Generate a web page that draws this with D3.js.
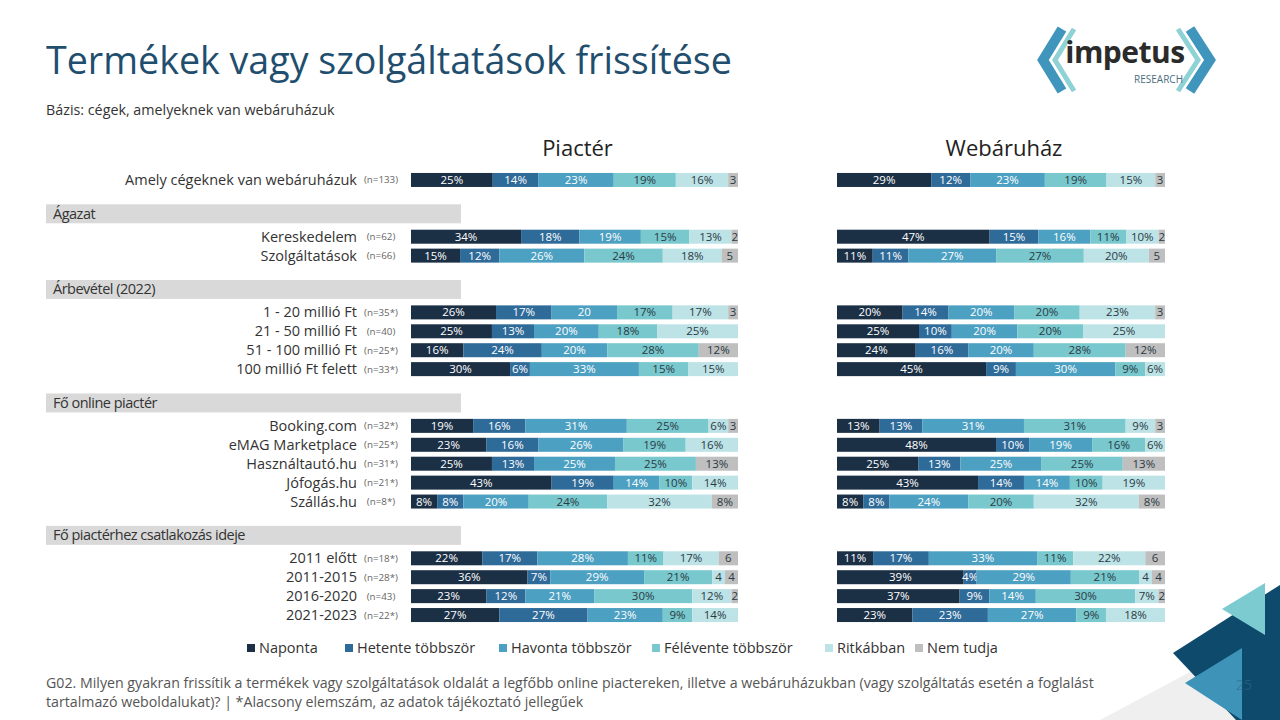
<!DOCTYPE html>
<html>
<head>
<meta charset="utf-8">
<script src="https://cdn.jsdelivr.net/npm/d3@7"></script>
<style>
  body { margin: 0; background: #fff; }
  svg { display: block; font-family: 'Open Sans', 'Noto Sans', sans-serif; }
</style>
</head>
<body>
<div id="chart"></div>
<script>
// Datos
const series = ["Naponta", "Hetente többször", "Havonta többször", "Félévente többször", "Ritkábban", "Nem tudja"];
const colors = ["#1b2f45", "#2f6b99", "#4ca0c2", "#78c8cd", "#bde3e6", "#bfbfbf"];

// filas (null = hueco entre grupos)
const rowLabels = [
  "Amely cégeknek van webáruházuk", null, null,
  "Kereskedelem", "Szolgáltatások", null, null,
  "1 - 20 millió Ft", "21 - 50 millió Ft", "51 - 100 millió Ft", "100 millió Ft felett", null, null,
  "Booking.com", "eMAG Marketplace", "Használtautó.hu", "Jófogás.hu", "Szállás.hu", null, null,
  "2011 előtt", "2011-2015", "2016-2020", "2021-2023"
];
const nLabels = [
  "(n=133)", null, null,
  "(n=62)", "(n=66)", null, null,
  "(n=35*)", "(n=40)", "(n=25*)", "(n=33*)", null, null,
  "(n=32*)", "(n=25*)", "(n=31*)", "(n=21*)", "(n=8*)", null, null,
  "(n=18*)", "(n=28*)", "(n=43)", "(n=22*)"
];
const groupHeaders = ["Ágazat", "Árbevétel (2022)", "Fő online piactér", "Fő piactérhez csatlakozás ideje"];
const panelTitles = ["Piactér", "Webáruház"];

const piacter = [
  [25, 14, 23, 19, 16, 3], null, null,
  [34, 18, 19, 15, 13, 2], [15, 12, 26, 24, 18, 5], null, null,
  [26, 17, 20, 17, 17, 3], [25, 13, 20, 18, 25, 0], [16, 24, 20, 28, 0, 12], [30, 6, 33, 15, 15, 0], null, null,
  [19, 16, 31, 25, 6, 3], [23, 16, 26, 19, 16, 0], [25, 13, 25, 25, 0, 13], [43, 19, 14, 10, 14, 0], [8, 8, 20, 24, 32, 8], null, null,
  [22, 17, 28, 11, 17, 6], [36, 7, 29, 21, 4, 4], [23, 12, 21, 30, 12, 2], [27, 27, 23, 9, 14, 0]
];
const webaruhaz = [
  [29, 12, 23, 19, 15, 3], null, null,
  [47, 15, 16, 11, 10, 2], [11, 11, 27, 27, 20, 5], null, null,
  [20, 14, 20, 20, 23, 3], [25, 10, 20, 20, 25, 0], [24, 16, 20, 28, 0, 12], [45, 9, 30, 9, 6, 0], null, null,
  [13, 13, 31, 31, 9, 3], [48, 10, 19, 16, 6, 0], [25, 13, 25, 25, 0, 13], [43, 14, 14, 10, 19, 0], [8, 8, 24, 20, 32, 8], null, null,
  [11, 17, 33, 11, 22, 6], [39, 4, 29, 21, 4, 4], [37, 9, 14, 30, 7, 2], [23, 23, 27, 9, 18, 0]
];
// etiquetas sin "%" tal como aparecen en el original: [panel, fila, serie]
const plainLabels = [[0, 7, 2]];

const svgWidth = 1280, svgHeight = 720;
const svg = d3.select("#chart").append("svg")
  .attr("width", svgWidth).attr("height", svgHeight);

// decoracion abajo a la derecha
svg.append("polygon").attr("points", "1100,720 1205,664 1280,632 1280,720").attr("fill", "#efefef");
svg.append("polygon").attr("points", "1173,653 1280,585 1280,720 1236,720").attr("fill", "#0d4a6b");
svg.append("polygon").attr("points", "1222,609 1265,583 1265,635").attr("fill", "#7ccbd0");
svg.append("polygon").attr("points", "1185,683 1242,648 1242,720").attr("fill", "#3d93b8");
svg.append("text").attr("x", 1236).attr("y", 690).attr("font-size", 14)
  .attr("fill", "#2f6b8a").attr("opacity", 0.6).text("25");

// titulo
const title = svg.append("text")
  .attr("x", 46).attr("y", 74)
  .attr("font-size", 40).attr("fill", "#1f4e6e")
  .text("Termékek vagy szolgáltatások frissítése");
const tw = title.node().getComputedTextLength();
title.attr("font-size", 40 * 686 / tw);

svg.append("text").attr("x", 46).attr("y", 115)
  .attr("font-size", 14.3).attr("fill", "#333")
  .text("Bázis: cégek, amelyeknek van webáruházuk");

// logo
const logo = svg.append("g");
logo.append("path").attr("d", "M1062,29 L1043,60 L1062,91").attr("fill", "none")
  .attr("stroke", "#3f95bb").attr("stroke-width", 10);
logo.append("path").attr("d", "M1074,29 L1055,60 L1074,91").attr("fill", "none")
  .attr("stroke", "#8fd2d6").attr("stroke-width", 5);
logo.append("path").attr("d", "M1190,29 L1210,60 L1190,91").attr("fill", "none")
  .attr("stroke", "#3f95bb").attr("stroke-width", 10);
logo.append("path").attr("d", "M1178,29 L1198,60 L1178,91").attr("fill", "none")
  .attr("stroke", "#8fd2d6").attr("stroke-width", 5);
logo.append("text").attr("x", 1125).attr("y", 63).attr("text-anchor", "middle")
  .attr("font-size", 30).attr("font-weight", 700).attr("fill", "#2b2b2b")
  .attr("letter-spacing", -0.5).text("impetus");
logo.append("text").attr("x", 1183).attr("y", 83).attr("text-anchor", "end")
  .attr("font-size", 10).attr("fill", "#4a6f80").text("RESEARCH");

// escalas
const slots = d3.range(rowLabels.length);
const y = d3.scaleBand().domain(slots).range([170.5, 624.5]).paddingInner(0.26).paddingOuter(0.13);
const panels = [
  { x: d3.scaleLinear().range([411, 738]), data: piacter },
  { x: d3.scaleLinear().range([837, 1165]), data: webaruhaz }
];

// cabeceras de grupo: en el segundo hueco de cada bloque
const headerSlots = slots.filter(i => rowLabels[i] === null && rowLabels[i - 1] === null);
headerSlots.forEach((s, i) => {
  const cy = y(s) + y.bandwidth() / 2 - 4;
  svg.append("rect").attr("x", 46).attr("y", cy - 9.5).attr("width", 415).attr("height", 19).attr("fill", "#d9d9d9");
  svg.append("text").attr("x", 53).attr("y", cy + 5).attr("font-size", 14.5)
    .attr("letter-spacing", -0.5).attr("fill", "#333").text(groupHeaders[i]);
});

// etiquetas de fila
slots.filter(i => rowLabels[i] !== null).forEach(i => {
  const cy = y(i) + y.bandwidth() / 2;
  svg.append("text").attr("x", 357).attr("y", cy + 5).attr("text-anchor", "end")
    .attr("font-size", 14.5).attr("fill", "#333").text(rowLabels[i]);
  svg.append("text").attr("x", 381).attr("y", cy + 3.5).attr("text-anchor", "middle")
    .attr("font-size", 9.8).attr("fill", "#666").text(nLabels[i]);
});

// titulos de panel
panelTitles.forEach((t, p) => {
  const r = panels[p].x.range();
  svg.append("text").attr("x", (r[0] + r[1]) / 2 + 3).attr("y", 156).attr("text-anchor", "middle")
    .attr("font-size", 22).attr("fill", "#222").text(t);
});

// barras
panels.forEach((panel, p) => {
  const g = svg.append("g");
  panel.data.forEach((row, i) => {
    if (!row) return;
    const x = panel.x.copy().domain([0, d3.sum(row)]);
    const stack = d3.cumsum(row);
    row.forEach((v, k) => {
      if (!v) return;
      const x0 = x(stack[k] - v), x1 = x(stack[k]);
      g.append("rect")
        .attr("x", x0).attr("y", y(i))
        .attr("width", x1 - x0).attr("height", y.bandwidth())
        .attr("fill", colors[k]);
      const plain = plainLabels.some(d => d[0] === p && d[1] === i && d[2] === k)
        || (k === 5 && v <= 6) || (k === 4 && v <= 4);
      g.append("text")
        .attr("x", (x0 + x1) / 2).attr("y", y(i) + y.bandwidth() / 2 + 4)
        .attr("text-anchor", "middle").attr("font-size", 11.5)
        .attr("fill", k < 3 ? "#fff" : "#2a3a44")
        .text(plain ? v : v + "%");
    });
  });
});

// Leyenda
const legendX = [247, 345, 499, 652, 825, 915];
series.forEach((s, k) => {
  svg.append("rect").attr("x", legendX[k]).attr("y", 644).attr("width", 8).attr("height", 8).attr("fill", colors[k]);
  svg.append("text").attr("x", legendX[k] + 12).attr("y", 653).attr("font-size", 14.5).attr("fill", "#333").text(s);
});

// nota al pie
svg.append("text").attr("x", 46).attr("y", 688).attr("font-size", 14.2).attr("fill", "#555")
  .text("G02. Milyen gyakran frissítik a termékek vagy szolgáltatások oldalát a legfőbb online piactereken, illetve a webáruházukban (vagy szolgáltatás esetén a foglalást");
svg.append("text").attr("x", 46).attr("y", 707).attr("font-size", 14.2).attr("fill", "#555")
  .text("tartalmazó weboldalukat)? | *Alacsony elemszám, az adatok tájékoztató jellegűek");
</script>
</body>
</html>
